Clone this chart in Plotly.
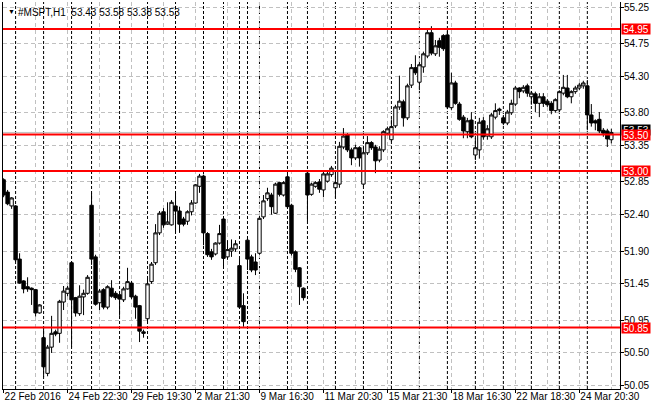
import plotly.graph_objects as go

# H1 bars (bar index = position on the time scale)
opens = [52.88, 52.71, 52.52, 52.52, 51.79, 51.49, 51.41, 51.39, 51.37, 51.05,
         50.71, 50.22, 50.58, 50.79, 50.77, 51.20, 51.32, 51.74, 51.26, 51.04,
         51.27, 51.32, 52.53, 51.82, 51.19, 51.37, 51.13, 51.39, 51.32, 51.30,
         51.23, 51.38, 51.46, 51.28, 51.15, 50.79, 50.97, 51.48, 51.74, 52.15,
         52.44, 52.27, 52.26, 52.52, 52.45, 52.34, 52.31, 52.44, 52.56, 52.79,
         52.93, 52.14, 51.89, 51.86, 52.01, 52.34, 51.82, 51.90, 51.93, 51.70,
         51.15, 52.05, 51.82, 51.75, 51.87, 52.37, 52.62, 52.67, 52.42, 52.84,
         52.67, 52.92, 52.53, 51.89, 51.67, 51.39, 52.97, 52.68, 52.79, 52.85,
         52.74, 52.86, 52.95, 52.77, 52.82, 53.33, 53.50, 53.29, 53.18, 53.32,
         52.82, 53.25, 53.39, 53.33, 53.15, 53.29, 53.52, 53.43, 53.62, 53.88,
         53.95, 53.73, 54.18, 54.42, 54.22, 54.43, 54.58, 54.90, 54.61, 54.79,
         54.86, 54.87, 53.87, 54.21, 53.92, 53.74, 53.54, 53.70, 53.22, 53.29,
         53.69, 53.48, 53.47, 53.74, 53.83, 53.73, 53.66, 53.80, 53.92, 54.14,
         54.10, 54.17, 54.02, 54.06, 53.93, 54.02, 53.96, 53.93, 53.83, 53.84,
         54.07, 54.14, 54.02, 54.09, 54.14, 54.17, 54.17, 53.77, 53.69, 53.71,
         53.56, 53.55, 53.43]
highs = [52.90, 52.74, 52.64, 52.53, 51.87, 51.50, 51.54, 51.40, 51.38, 51.17,
         50.86, 50.61, 51.01, 50.82, 51.23, 51.42, 51.42, 51.76, 51.27, 51.43,
         51.37, 51.57, 52.70, 51.85, 51.38, 51.39, 51.43, 51.50, 51.35, 51.32,
         51.41, 51.67, 51.49, 51.30, 51.16, 50.82, 51.53, 51.75, 52.27, 52.45,
         52.49, 52.57, 52.60, 52.70, 52.51, 52.37, 52.46, 52.60, 52.82, 52.96,
         52.95, 52.16, 51.93, 52.02, 52.26, 52.35, 52.05, 52.06, 52.05, 51.80,
         51.32, 52.09, 51.85, 51.87, 52.37, 52.67, 52.77, 52.70, 52.84, 52.85,
         52.86, 52.96, 52.55, 51.91, 51.68, 51.40, 52.99, 52.84, 52.86, 52.89,
         52.99, 53.00, 53.07, 52.99, 53.40, 53.59, 53.52, 53.32, 53.36, 53.34,
         53.33, 53.48, 53.41, 53.36, 53.34, 53.56, 53.61, 53.71, 53.91, 54.31,
         53.98, 54.20, 54.47, 54.59, 54.48, 54.64, 54.94, 54.99, 54.80, 54.83,
         54.88, 54.94, 54.35, 54.24, 53.95, 53.77, 53.73, 53.81, 53.45, 53.73,
         53.74, 53.63, 53.80, 53.93, 53.87, 53.77, 53.84, 53.98, 54.17, 54.15,
         54.18, 54.20, 54.10, 54.09, 54.07, 54.07, 53.99, 53.96, 54.00, 54.11,
         54.32, 54.32, 54.11, 54.17, 54.21, 54.24, 54.25, 53.92, 53.71, 53.81,
         53.59, 53.58, 53.58]
lows = [52.64, 52.53, 52.48, 51.75, 51.45, 51.32, 51.34, 51.16, 51.00, 51.04,
        50.17, 50.18, 50.50, 50.73, 50.64, 51.09, 51.28, 50.58, 51.00, 51.01,
        51.02, 51.30, 51.71, 51.15, 51.09, 51.10, 51.10, 51.26, 51.23, 51.01,
        51.20, 51.37, 51.24, 50.97, 50.65, 50.71, 50.91, 51.45, 51.71, 52.12,
        52.22, 52.26, 52.25, 52.15, 52.15, 52.24, 52.26, 52.39, 52.55, 52.70,
        51.98, 51.82, 51.78, 51.84, 51.99, 51.67, 51.78, 51.82, 51.89, 51.12,
        50.86, 51.64, 51.61, 51.57, 51.85, 52.34, 52.59, 52.40, 52.41, 52.65,
        52.65, 52.50, 51.84, 51.61, 51.16, 51.22, 52.31, 52.66, 52.77, 52.70,
        52.64, 52.84, 52.92, 52.63, 52.77, 53.30, 53.26, 53.08, 53.15, 53.06,
        52.78, 53.22, 53.29, 52.97, 53.12, 53.26, 53.50, 53.40, 53.59, 53.84,
        53.61, 53.70, 54.14, 54.32, 54.11, 54.35, 54.55, 54.59, 54.58, 54.57,
        54.65, 53.85, 53.84, 53.91, 53.69, 53.45, 53.45, 53.45, 53.15, 53.17,
        53.43, 53.43, 53.44, 53.71, 53.77, 53.63, 53.63, 53.77, 53.89, 54.00,
        54.07, 54.02, 53.91, 53.81, 53.74, 53.88, 53.88, 53.78, 53.80, 53.81,
        54.04, 54.00, 53.93, 54.06, 54.11, 54.13, 53.56, 53.61, 53.56, 53.52,
        53.47, 53.33, 53.38]
closes = [52.67, 52.55, 52.63, 51.78, 51.46, 51.38, 51.38, 51.37, 51.05, 51.16,
          50.31, 50.58, 50.77, 50.76, 51.21, 51.35, 51.39, 51.23, 51.05, 51.28,
          51.32, 51.54, 51.79, 51.17, 51.35, 51.13, 51.41, 51.28, 51.26, 51.24,
          51.38, 51.48, 51.27, 51.13, 50.80, 50.77, 51.45, 51.72, 52.15, 52.42,
          52.26, 52.30, 52.57, 52.45, 52.27, 52.27, 52.44, 52.56, 52.81, 52.93,
          52.15, 51.85, 51.82, 52.01, 52.14, 51.80, 51.92, 51.94, 52.00, 51.13,
          50.93, 51.79, 51.64, 51.64, 52.35, 52.59, 52.70, 52.51, 52.82, 52.68,
          52.84, 52.51, 51.87, 51.65, 51.41, 51.26, 52.67, 52.82, 52.84, 52.75,
          52.96, 52.96, 53.04, 52.84, 53.34, 53.48, 53.29, 53.18, 53.32, 53.18,
          53.25, 53.39, 53.32, 53.14, 53.30, 53.54, 53.58, 53.61, 53.88, 53.96,
          53.73, 54.17, 54.42, 54.35, 54.46, 54.61, 54.90, 54.62, 54.72, 54.70,
          54.68, 53.88, 54.21, 53.93, 53.71, 53.55, 53.69, 53.47, 53.32, 53.67,
          53.47, 53.58, 53.77, 53.83, 53.85, 53.66, 53.81, 53.93, 54.14, 54.09,
          54.15, 54.07, 54.07, 53.93, 54.02, 53.93, 53.91, 53.83, 53.98, 54.09,
          54.15, 54.02, 54.09, 54.14, 54.18, 54.21, 53.77, 53.66, 53.66, 53.55,
          53.52, 53.44, 53.53]

time_tick_bars = [0, 16, 32, 48, 64, 80, 96, 112, 128, 144]
time_tick_labels = ["22 Feb 2016", "24 Feb 22:30", "29 Feb 19:30", "2 Mar 21:30",
                    "9 Mar 16:30", "11 Mar 20:30", "15 Mar 21:30", "18 Mar 16:30",
                    "22 Mar 18:30", "24 Mar 20:30"]
# first bar of each trading day (period separators)
day_starts = [3, 10, 17, 22, 29, 36, 43, 50, 55, 59, 61, 64, 71, 76, 83, 90,
              97, 104, 111, 118, 125, 132, 139, 146]
price_ticks = [55.25, 54.75, 54.30, 53.80, 53.35, 52.85, 52.40, 51.90, 51.45,
               50.95, 50.50, 50.05]
levels = [54.95, 53.50, 53.00, 50.85]
bid = 53.53

FONT = "Liberation Sans"
GRID = "#c0c0c0"

bars = list(range(len(opens)))

fig = go.Figure(go.Candlestick(
    x=bars, open=opens, high=highs, low=lows, close=closes,
    increasing=dict(line=dict(color="black", width=1), fillcolor="white"),
    decreasing=dict(line=dict(color="black", width=1), fillcolor="black"),
    whiskerwidth=0, hoverinfo="skip",
))

shapes = []
for b in day_starts:
    shapes.append(dict(type="line", xref="x", yref="paper", x0=b, x1=b, y0=0, y1=1,
                       line=dict(color="black", width=1, dash="3px,2px"), layer="between"))
shapes.append(dict(type="line", xref="paper", yref="y", x0=0, x1=1, y0=bid, y1=bid,
                   line=dict(color=GRID, width=1), layer="between"))
for lv in levels:
    shapes.append(dict(type="line", xref="paper", yref="y", x0=0, x1=1, y0=lv, y1=lv,
                       line=dict(color="red", width=2), layer="above"))

annotations = [
    dict(text="▼", x=0, y=1, xref="paper", yref="paper", xanchor="left", yanchor="top",
         xshift=3, yshift=-4, showarrow=False, font=dict(family=FONT, size=7, color="black")),
    dict(text="#MSPT,H1  53.43 53.58 53.38 53.53", x=0, y=1, xref="paper", yref="paper",
         xanchor="left", yanchor="top", xshift=13, yshift=-3, showarrow=False,
         font=dict(family=FONT, size=10, color="black")),
    dict(text="%.2f" % bid, x=1, y=bid, xref="paper", yref="y", xanchor="left",
         xshift=1, yshift=2, showarrow=False, bgcolor="black", width=28, height=10,
         borderpad=0, font=dict(family=FONT, size=10, color="white")),
]
for lv in levels:
    annotations.append(dict(text="%.2f" % lv, x=1, y=lv, xref="paper", yref="y",
                            xanchor="left", xshift=1, showarrow=False, bgcolor="red",
                            width=28, height=10, borderpad=0, align="center",
                            font=dict(family=FONT, size=10, color="white")))

fig.update_layout(
    width=660, height=410,
    margin=dict(l=3, r=40, t=2, b=21),
    paper_bgcolor="white", plot_bgcolor="white",
    showlegend=False,
    boxgap=0.15, boxgroupgap=0,
    font=dict(family=FONT, size=10, color="black"),
    shapes=shapes, annotations=annotations,
    xaxis=dict(
        range=[-0.15, 154.17], rangeslider=dict(visible=False), fixedrange=True,
        tickmode="array", tickvals=time_tick_bars, ticktext=time_tick_labels,
        tickangle=0, ticks="outside", ticklen=3, tickcolor="black",
        ticklabelposition="outside right", ticklabelstandoff=-2,
        showline=True, linecolor="black", linewidth=1, zeroline=False,
        showgrid=True, gridcolor=GRID, griddash="4px,3px", gridwidth=1,
        minor=dict(tick0=0, dtick=8, showgrid=True, gridcolor=GRID, griddash="4px,3px",
                   ticks=""),
    ),
    yaxis=dict(
        side="right", range=[50.005, 55.322], fixedrange=True,
        tickmode="array", tickvals=price_ticks, ticktext=["%.2f" % v for v in price_ticks],
        ticks="outside", ticklen=3, tickcolor="black", ticklabelstandoff=-2,
        showline=True, mirror=True, linecolor="black", linewidth=1, zeroline=False,
        showgrid=True, gridcolor=GRID, griddash="4px,3px", gridwidth=1,
    ),
)

# the page has a default 8px body margin; drop it so the chart sits at 0,0
fig.write_html("out.html", config={"displayModeBar": False},
               post_script="document.body.style.margin='0';")
